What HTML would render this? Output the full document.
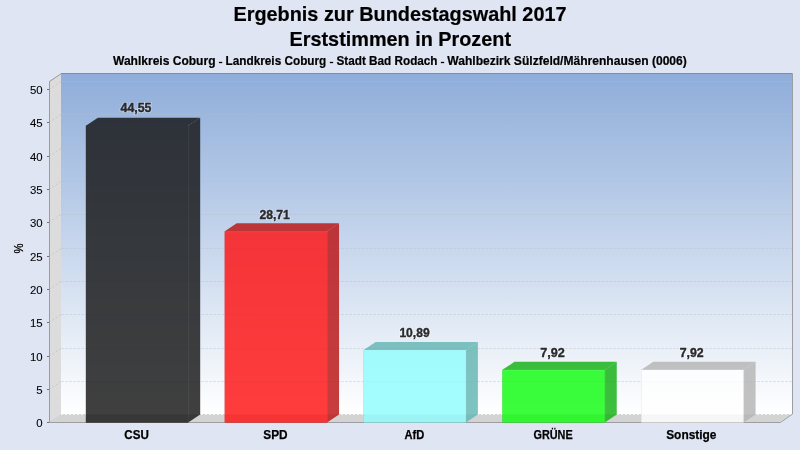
<!DOCTYPE html>
<html><head><meta charset="utf-8"><style>
html,body{margin:0;padding:0;background:#dfe5f3;width:800px;height:450px;overflow:hidden}
svg{display:block;will-change:transform}
text{font-family:"Liberation Sans",sans-serif}
</style></head><body>
<svg width="800" height="450" viewBox="0 0 800 450">
<defs>
<linearGradient id="wall" x1="0" y1="73" x2="0" y2="414" gradientUnits="userSpaceOnUse">
<stop offset="0" stop-color="#8eadda"/><stop offset="1" stop-color="#ffffff"/>
</linearGradient>
</defs>
<rect x="0" y="0" width="800" height="450" fill="#dfe5f3"/>

<text x="400" y="20.8" text-anchor="middle" font-size="21" stroke="#000" stroke-width="0.2" font-weight="bold" fill="#000" textLength="333" lengthAdjust="spacingAndGlyphs">Ergebnis zur Bundestagswahl 2017</text>
<text x="400.3" y="45.8" text-anchor="middle" font-size="21" stroke="#000" stroke-width="0.2" font-weight="bold" fill="#000" textLength="221.5" lengthAdjust="spacingAndGlyphs">Erststimmen in Prozent</text>
<text x="113.0" y="65" font-size="12" font-weight="bold" fill="#000" stroke="#000" stroke-width="0.2" textLength="102.5" lengthAdjust="spacingAndGlyphs">Wahlkreis Coburg</text>
<rect x="218.95" y="61.85" width="3.3" height="1.3" fill="#000"/>
<text x="225.6" y="65" font-size="12" font-weight="bold" fill="#000" stroke="#000" stroke-width="0.2" textLength="100.7" lengthAdjust="spacingAndGlyphs">Landkreis Coburg</text>
<rect x="329.85" y="61.85" width="3.3" height="1.3" fill="#000"/>
<text x="336.5" y="65" font-size="12" font-weight="bold" fill="#000" stroke="#000" stroke-width="0.2" textLength="101.0" lengthAdjust="spacingAndGlyphs">Stadt Bad Rodach</text>
<rect x="440.85" y="61.85" width="3.3" height="1.3" fill="#000"/>
<text x="447.3" y="65" font-size="12" font-weight="bold" fill="#000" stroke="#000" stroke-width="0.2" textLength="239.5" lengthAdjust="spacingAndGlyphs">Wahlbezirk Sülzfeld/Mährenhausen (0006)</text>
<rect x="61" y="73" width="731" height="341" fill="url(#wall)"/>
<polygon points="49,81 61,73 61,414 49,422" fill="#dcdcdc"/>
<polygon points="49,422 61,414 792,414 780,422" fill="#d3d3d3"/>
<line x1="61" y1="381.5" x2="792" y2="381.5" stroke="#bdbdbd" stroke-opacity="0.42" stroke-dasharray="2.5,1.5" stroke-dashoffset="-0.3"/>
<line x1="49" y1="389.5" x2="61" y2="381.5" stroke="#bbbbbb" stroke-opacity="0.6" stroke-dasharray="2,2"/>
<line x1="61" y1="348.5" x2="792" y2="348.5" stroke="#bdbdbd" stroke-opacity="0.42" stroke-dasharray="2.5,1.5" stroke-dashoffset="-0.3"/>
<line x1="49" y1="356.5" x2="61" y2="348.5" stroke="#bbbbbb" stroke-opacity="0.6" stroke-dasharray="2,2"/>
<line x1="61" y1="314.5" x2="792" y2="314.5" stroke="#bdbdbd" stroke-opacity="0.42" stroke-dasharray="2.5,1.5" stroke-dashoffset="-0.3"/>
<line x1="49" y1="322.5" x2="61" y2="314.5" stroke="#bbbbbb" stroke-opacity="0.6" stroke-dasharray="2,2"/>
<line x1="61" y1="281.5" x2="792" y2="281.5" stroke="#bdbdbd" stroke-opacity="0.42" stroke-dasharray="2.5,1.5" stroke-dashoffset="-0.3"/>
<line x1="49" y1="289.5" x2="61" y2="281.5" stroke="#bbbbbb" stroke-opacity="0.6" stroke-dasharray="2,2"/>
<line x1="61" y1="248.5" x2="792" y2="248.5" stroke="#bdbdbd" stroke-opacity="0.42" stroke-dasharray="2.5,1.5" stroke-dashoffset="-0.3"/>
<line x1="49" y1="256.5" x2="61" y2="248.5" stroke="#bbbbbb" stroke-opacity="0.6" stroke-dasharray="2,2"/>
<line x1="61" y1="214.5" x2="792" y2="214.5" stroke="#bdbdbd" stroke-opacity="0.42" stroke-dasharray="2.5,1.5" stroke-dashoffset="-0.3"/>
<line x1="49" y1="222.5" x2="61" y2="214.5" stroke="#bbbbbb" stroke-opacity="0.6" stroke-dasharray="2,2"/>
<line x1="61" y1="181.5" x2="792" y2="181.5" stroke="#bdbdbd" stroke-opacity="0.42" stroke-dasharray="2.5,1.5" stroke-dashoffset="-0.3"/>
<line x1="49" y1="189.5" x2="61" y2="181.5" stroke="#bbbbbb" stroke-opacity="0.6" stroke-dasharray="2,2"/>
<line x1="61" y1="148.5" x2="792" y2="148.5" stroke="#bdbdbd" stroke-opacity="0.42" stroke-dasharray="2.5,1.5" stroke-dashoffset="-0.3"/>
<line x1="49" y1="156.5" x2="61" y2="148.5" stroke="#bbbbbb" stroke-opacity="0.6" stroke-dasharray="2,2"/>
<line x1="61" y1="114.5" x2="792" y2="114.5" stroke="#bdbdbd" stroke-opacity="0.42" stroke-dasharray="2.5,1.5" stroke-dashoffset="-0.3"/>
<line x1="49" y1="122.5" x2="61" y2="114.5" stroke="#bbbbbb" stroke-opacity="0.6" stroke-dasharray="2,2"/>
<line x1="61" y1="81.5" x2="792" y2="81.5" stroke="#bdbdbd" stroke-opacity="0.42" stroke-dasharray="2.5,1.5" stroke-dashoffset="-0.3"/>
<line x1="49" y1="89.5" x2="61" y2="81.5" stroke="#bbbbbb" stroke-opacity="0.6" stroke-dasharray="2,2"/>
<line x1="61" y1="414.5" x2="792" y2="414.5" stroke="#f0f0f0" stroke-dasharray="2,2"/>
<polyline points="49.5,422 49.5,81.5 61.5,73.5 792.5,73.5 792.5,414 780.5,422.5 49,422.5" fill="none" stroke="#808080" stroke-opacity="0.7" stroke-width="1"/>
<line x1="47" y1="422.5" x2="49" y2="422.5" stroke="#707070"/>
<text transform="translate(42.7,426.5) scale(1.14,1)" text-anchor="end" font-size="10" fill="#000" stroke="#000" stroke-width="0.08">0</text>
<line x1="47" y1="389.5" x2="49" y2="389.5" stroke="#707070"/>
<text transform="translate(42.7,393.5) scale(1.14,1)" text-anchor="end" font-size="10" fill="#000" stroke="#000" stroke-width="0.08">5</text>
<line x1="47" y1="356.5" x2="49" y2="356.5" stroke="#707070"/>
<text transform="translate(42.7,360.5) scale(1.14,1)" text-anchor="end" font-size="10" fill="#000" stroke="#000" stroke-width="0.08">10</text>
<line x1="47" y1="322.5" x2="49" y2="322.5" stroke="#707070"/>
<text transform="translate(42.7,326.5) scale(1.14,1)" text-anchor="end" font-size="10" fill="#000" stroke="#000" stroke-width="0.08">15</text>
<line x1="47" y1="289.5" x2="49" y2="289.5" stroke="#707070"/>
<text transform="translate(42.7,293.5) scale(1.14,1)" text-anchor="end" font-size="10" fill="#000" stroke="#000" stroke-width="0.08">20</text>
<line x1="47" y1="256.5" x2="49" y2="256.5" stroke="#707070"/>
<text transform="translate(42.7,260.5) scale(1.14,1)" text-anchor="end" font-size="10" fill="#000" stroke="#000" stroke-width="0.08">25</text>
<line x1="47" y1="222.5" x2="49" y2="222.5" stroke="#707070"/>
<text transform="translate(42.7,226.5) scale(1.14,1)" text-anchor="end" font-size="10" fill="#000" stroke="#000" stroke-width="0.08">30</text>
<line x1="47" y1="189.5" x2="49" y2="189.5" stroke="#707070"/>
<text transform="translate(42.7,193.5) scale(1.14,1)" text-anchor="end" font-size="10" fill="#000" stroke="#000" stroke-width="0.08">35</text>
<line x1="47" y1="156.5" x2="49" y2="156.5" stroke="#707070"/>
<text transform="translate(42.7,160.5) scale(1.14,1)" text-anchor="end" font-size="10" fill="#000" stroke="#000" stroke-width="0.08">40</text>
<line x1="47" y1="122.5" x2="49" y2="122.5" stroke="#707070"/>
<text transform="translate(42.7,126.5) scale(1.14,1)" text-anchor="end" font-size="10" fill="#000" stroke="#000" stroke-width="0.08">45</text>
<line x1="47" y1="89.5" x2="49" y2="89.5" stroke="#707070"/>
<text transform="translate(42.7,93.5) scale(1.14,1)" text-anchor="end" font-size="10" fill="#000" stroke="#000" stroke-width="0.08">50</text>
<text transform="translate(23.0,248.5) rotate(-90)" text-anchor="middle" font-size="12.5" fill="#000" stroke="#000" stroke-width="0.2" textLength="10" lengthAdjust="spacingAndGlyphs">%</text>
<g opacity="0.81">
<path d="M85.90,422.5 L85.90,125.63 L97.90,117.63 L200.20,117.63 L200.20,414.50 L188.20,422.5 Z" fill="#141414"/>
<rect x="85.90" y="125.63" width="102.30" height="296.87" fill="#141414"/>
</g>
<path d="M188.20,125.63 L200.20,117.63" stroke="#ffffff" stroke-opacity="0.18" stroke-width="1" stroke-dasharray="2,1" fill="none"/>
<path d="M188.70,125.63 L188.70,422.5" stroke="#ffffff" stroke-opacity="0.06" stroke-width="1" fill="none"/>
<text x="136.00" y="112.33" text-anchor="middle" font-size="12" font-weight="bold" fill="none" stroke="#ffffff" stroke-opacity="0.3" stroke-width="2.2" textLength="31.0" lengthAdjust="spacingAndGlyphs">44,55</text>
<text x="136.00" y="112.33" text-anchor="middle" font-size="12" font-weight="bold" fill="#2a2a2a" stroke="#2a2a2a" stroke-width="0.35" textLength="31.0" lengthAdjust="spacingAndGlyphs">44,55</text>
<text x="136.60" y="438.7" text-anchor="middle" font-size="12" font-weight="bold" fill="#000" stroke="#000" stroke-width="0.25" textLength="24.5" lengthAdjust="spacingAndGlyphs">CSU</text>
<g opacity="0.81">
<path d="M224.75,422.5 L224.75,231.23 L236.75,223.23 L339.05,223.23 L339.05,414.50 L327.05,422.5 Z" fill="#bb1111"/>
<rect x="224.75" y="231.23" width="102.30" height="191.27" fill="#ff1010"/>
</g>
<path d="M327.05,231.23 L339.05,223.23" stroke="#ffffff" stroke-opacity="0.18" stroke-width="1" stroke-dasharray="2,1" fill="none"/>
<path d="M327.55,231.23 L327.55,422.5" stroke="#ffffff" stroke-opacity="0.06" stroke-width="1" fill="none"/>
<path d="M224.75,231.73 L327.05,231.73" stroke="#ffffff" stroke-opacity="0.08" stroke-width="1" fill="none"/>
<text x="274.65" y="218.93" text-anchor="middle" font-size="12" font-weight="bold" fill="none" stroke="#ffffff" stroke-opacity="0.3" stroke-width="2.2" textLength="30.5" lengthAdjust="spacingAndGlyphs">28,71</text>
<text x="274.65" y="218.93" text-anchor="middle" font-size="12" font-weight="bold" fill="#2a2a2a" stroke="#2a2a2a" stroke-width="0.35" textLength="30.5" lengthAdjust="spacingAndGlyphs">28,71</text>
<text x="275.40" y="438.7" text-anchor="middle" font-size="12" font-weight="bold" fill="#000" stroke="#000" stroke-width="0.25" textLength="24.3" lengthAdjust="spacingAndGlyphs">SPD</text>
<g opacity="0.81">
<path d="M363.60,422.5 L363.60,350.03 L375.60,342.03 L477.90,342.03 L477.90,414.50 L465.90,422.5 Z" fill="#62b6b3"/>
<rect x="363.60" y="350.03" width="102.30" height="72.47" fill="#90fdfd"/>
</g>
<path d="M465.90,350.03 L477.90,342.03" stroke="#ffffff" stroke-opacity="0.18" stroke-width="1" stroke-dasharray="2,1" fill="none"/>
<path d="M466.40,350.03 L466.40,422.5" stroke="#ffffff" stroke-opacity="0.06" stroke-width="1" fill="none"/>
<path d="M363.60,350.53 L465.90,350.53" stroke="#ffffff" stroke-opacity="0.08" stroke-width="1" fill="none"/>
<text x="414.50" y="336.83" text-anchor="middle" font-size="12" font-weight="bold" fill="none" stroke="#ffffff" stroke-opacity="0.3" stroke-width="2.2" textLength="30.2" lengthAdjust="spacingAndGlyphs">10,89</text>
<text x="414.50" y="336.83" text-anchor="middle" font-size="12" font-weight="bold" fill="#2a2a2a" stroke="#2a2a2a" stroke-width="0.35" textLength="30.2" lengthAdjust="spacingAndGlyphs">10,89</text>
<text x="414.40" y="438.7" text-anchor="middle" font-size="12" font-weight="bold" fill="#000" stroke="#000" stroke-width="0.25" textLength="19.8" lengthAdjust="spacingAndGlyphs">AfD</text>
<g opacity="0.81">
<path d="M502.45,422.5 L502.45,369.83 L514.45,361.83 L616.75,361.83 L616.75,414.50 L604.75,422.5 Z" fill="#11b011"/>
<rect x="502.45" y="369.83" width="102.30" height="52.67" fill="#0efd0e"/>
</g>
<path d="M604.75,369.83 L616.75,361.83" stroke="#ffffff" stroke-opacity="0.18" stroke-width="1" stroke-dasharray="2,1" fill="none"/>
<path d="M605.25,369.83 L605.25,422.5" stroke="#ffffff" stroke-opacity="0.06" stroke-width="1" fill="none"/>
<path d="M502.45,370.33 L604.75,370.33" stroke="#ffffff" stroke-opacity="0.08" stroke-width="1" fill="none"/>
<text x="552.60" y="356.93" text-anchor="middle" font-size="12" font-weight="bold" fill="none" stroke="#ffffff" stroke-opacity="0.3" stroke-width="2.2" textLength="24.6" lengthAdjust="spacingAndGlyphs">7,92</text>
<text x="552.60" y="356.93" text-anchor="middle" font-size="12" font-weight="bold" fill="#2a2a2a" stroke="#2a2a2a" stroke-width="0.35" textLength="24.6" lengthAdjust="spacingAndGlyphs">7,92</text>
<text x="553.05" y="438.7" text-anchor="middle" font-size="12" font-weight="bold" fill="#000" stroke="#000" stroke-width="0.25" textLength="39.2" lengthAdjust="spacingAndGlyphs">GRÜNE</text>
<g opacity="0.81">
<path d="M641.30,422.5 L641.30,369.83 L653.30,361.83 L755.60,361.83 L755.60,414.50 L743.60,422.5 Z" fill="#b4b4b4"/>
<rect x="641.30" y="369.83" width="102.30" height="52.67" fill="#ffffff"/>
</g>
<path d="M743.60,369.83 L755.60,361.83" stroke="#ffffff" stroke-opacity="0.18" stroke-width="1" stroke-dasharray="2,1" fill="none"/>
<path d="M744.10,369.83 L744.10,422.5" stroke="#ffffff" stroke-opacity="0.06" stroke-width="1" fill="none"/>
<path d="M641.30,370.33 L743.60,370.33" stroke="#ffffff" stroke-opacity="0.08" stroke-width="1" fill="none"/>
<text x="691.70" y="356.93" text-anchor="middle" font-size="12" font-weight="bold" fill="none" stroke="#ffffff" stroke-opacity="0.3" stroke-width="2.2" textLength="24.0" lengthAdjust="spacingAndGlyphs">7,92</text>
<text x="691.70" y="356.93" text-anchor="middle" font-size="12" font-weight="bold" fill="#2a2a2a" stroke="#2a2a2a" stroke-width="0.35" textLength="24.0" lengthAdjust="spacingAndGlyphs">7,92</text>
<text x="691.30" y="438.7" text-anchor="middle" font-size="12" font-weight="bold" fill="#000" stroke="#000" stroke-width="0.25" textLength="50.2" lengthAdjust="spacingAndGlyphs">Sonstige</text>
</svg></body></html>
